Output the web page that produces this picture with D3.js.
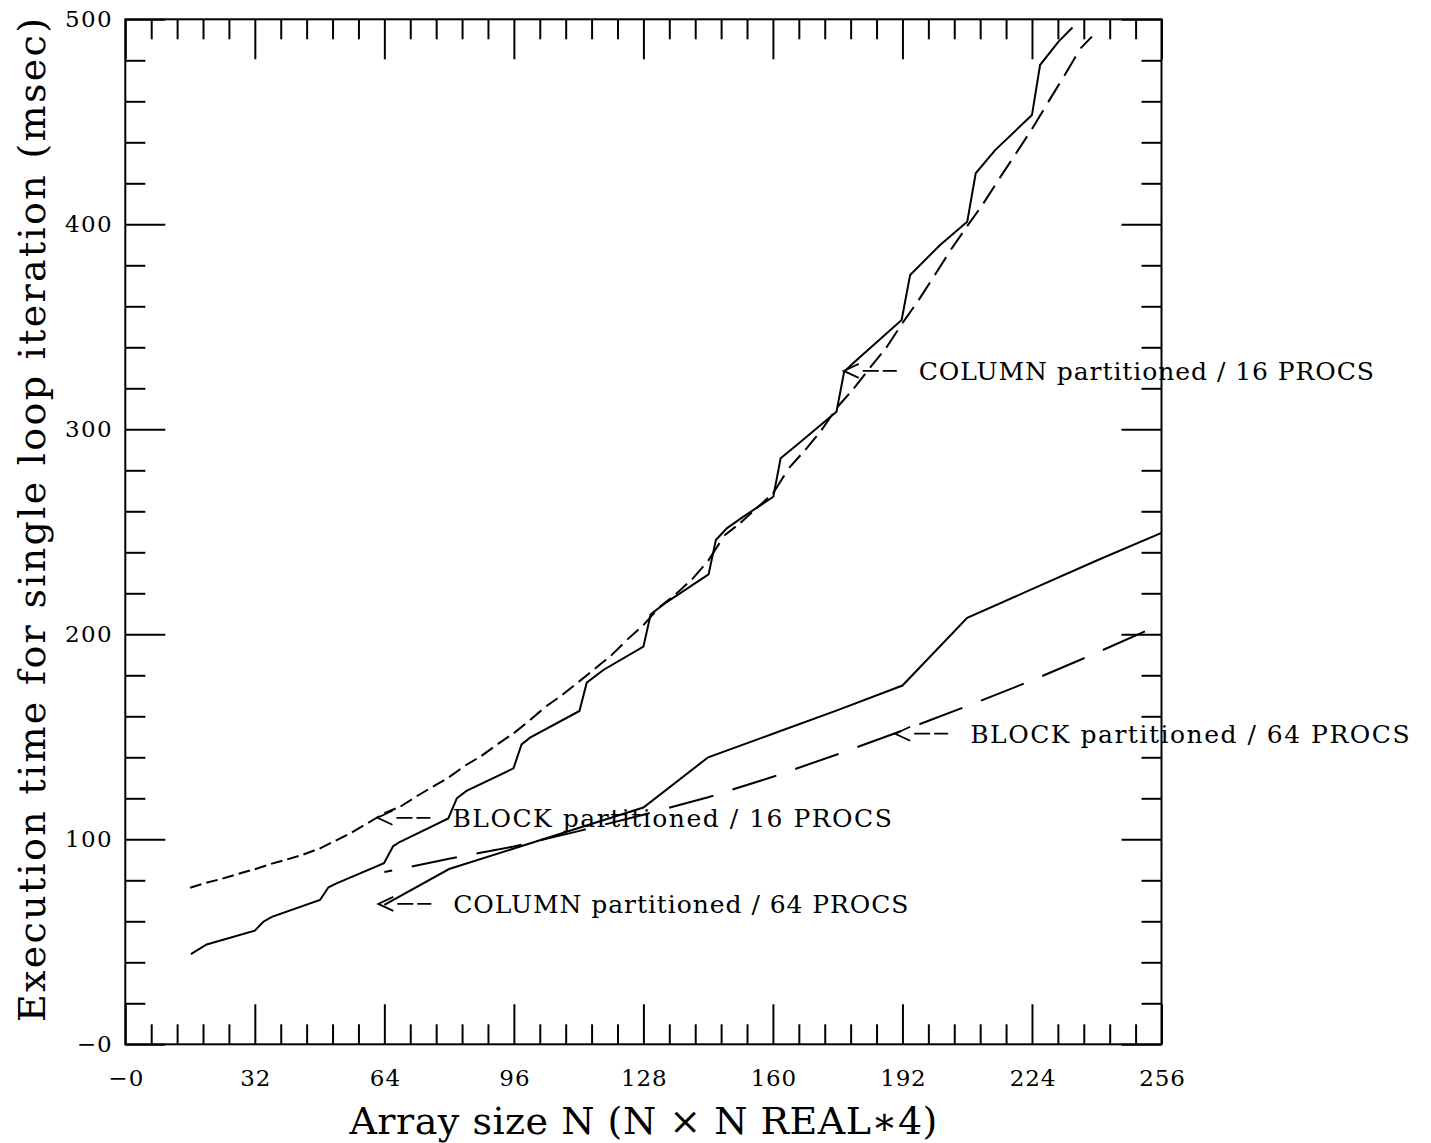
<!DOCTYPE html>
<html>
<head>
<meta charset="utf-8">
<script src="https://cdn.jsdelivr.net/npm/d3@7"></script>
<style>
  body { margin: 0; background: #fff; }
  svg text { font-family: "DejaVu Serif", serif; fill: #000; }
</style>
</head>
<body>
<div id="chart"></div>
<script>
// axis ticks
const xMajor = [0, 32, 64, 96, 128, 160, 192, 224, 256];
const yMajor = [0, 100, 200, 300, 400, 500];

// COLUMN partitioned / 16 PROCS (solid)
const col16N = [16.2, 20.1, 32, 34.1, 36.2, 48.1, 50.2, 52.2, 63.9, 66.2, 67.9, 79.8, 81.9, 84.3,
  95.9, 97.9, 100, 112.2, 114, 118.1, 128, 129.8, 133.3, 144.1, 145.9, 148.6, 152.7, 160.1,
  161.9, 165.9, 175.7, 177.6, 179.8, 191.8, 193.9, 201.3, 208, 210.1, 214.9, 224, 226, 230.5, 234];
const col16T = [44.0, 48.7, 55.4, 59.8, 62.2, 70.4, 76.6, 78.5, 88.3, 96.7, 98.8, 110.2, 120.0, 123.6,
  134.6, 146.3, 149.6, 162.6, 176.4, 182.6, 194.0, 209.8, 215.1, 229.2, 246.0, 251.7, 257.4, 267.1,
  285.9, 292.3, 308.6, 328.1, 332.2, 353.3, 375.3, 389.9, 401.2, 424.9, 436.2, 453.3, 477.7, 489.0, 496.0];

// BLOCK partitioned / 16 PROCS (short dashes)
const block16N = [16, 20, 24, 28, 32, 36, 40, 44, 48, 52, 56, 60, 64, 68, 72, 76, 80, 84, 88, 92,
  96, 100, 104, 108, 112, 116, 120, 124, 128, 132, 136, 140, 144, 148, 152, 156, 160, 164, 168,
  172, 176, 180, 184, 188, 192, 196, 200, 204, 208, 212, 216, 220, 224, 228, 232, 236, 240];
const block16T = [76.4, 78.8, 80.8, 83.2, 85.4, 88.0, 90.2, 92.6, 95.5, 99.4, 103.4, 108.0, 112.8,
  116.0, 121.0, 125.7, 130.3, 136.0, 140.7, 146.4, 151.8, 158.2, 164.9, 170.5, 176.8, 183.2, 189.6,
  197.4, 204.5, 213.3, 219.6, 226.8, 235.8, 248.2, 254.4, 261.6, 268.7, 281.2, 290.0, 299.6, 311.0,
  320.0, 330.1, 339.8, 351.8, 363.0, 375.3, 387.7, 399.1, 410.2, 422.5, 434.4, 446.5, 459.6, 472.5,
  485.8, 494.0];

// COLUMN partitioned / 64 PROCS (solid)
const col64N = [64, 80, 96, 112, 128, 144, 160, 176, 192, 208, 224, 240, 256];
const col64T = [68, 85.5, 95.5, 105.5, 115.5, 140, 151.5, 163, 175, 208, 222, 236, 249.5];

// BLOCK partitioned / 64 PROCS (long dashes)
const block64N = [64, 80, 96, 112, 128, 144, 160, 176, 192, 208, 224, 240, 256];
const block64T = [84, 90.5, 96.5, 104, 112, 120.5, 130.5, 141.5, 153, 165, 177.5, 191, 205];

// annotations: label, point the arrow touches
const noteText = ["COLUMN partitioned / 16 PROCS", "BLOCK partitioned / 16 PROCS",
  "COLUMN partitioned / 64 PROCS", "BLOCK partitioned / 64 PROCS"];
const noteN = [177.5, 62.3, 62.5, 190.2];
const noteT = [328.5, 110.5, 68.5, 151.5];

const width = 1431, height = 1143;
const svg = d3.select("#chart").append("svg")
  .attr("width", width).attr("height", height);

const x = d3.scaleLinear().domain([0, 256]).range([125.3, 1161.5]);
const y = d3.scaleLinear().domain([0, 500]).range([1044.3, 19.3]);

const fmt = d => d === 0 ? "\u22120" : String(d);
const xMinor = d3.range(0, 256.01, 6.4).filter(v => Math.abs(v / 32 - Math.round(v / 32)) > 1e-6);
const yMinor = d3.range(0, 500.01, 20).filter(v => v % 100 !== 0);

function styleAxis(g) {
  g.select(".domain").remove();
  g.selectAll("line").attr("stroke", "#000").attr("stroke-width", 2);
}

// bottom
svg.append("g").attr("transform", `translate(0,${y(0)})`)
  .call(d3.axisBottom(x).tickValues(xMajor).tickSize(-40).tickPadding(25).tickFormat(fmt))
  .call(styleAxis)
  .selectAll("text").attr("font-size", 23).attr("font-family", "DejaVu Serif")
  .attr("textLength", d => d === 0 ? 35 : fmt(d).length * 15.2);
svg.append("g").attr("transform", `translate(0,${y(0)})`)
  .call(d3.axisBottom(x).tickValues(xMinor).tickSize(-20).tickFormat(""))
  .call(styleAxis);
// top
svg.append("g").attr("transform", `translate(0,${y(500)})`)
  .call(d3.axisTop(x).tickValues(xMajor).tickSize(-40).tickFormat(""))
  .call(styleAxis);
svg.append("g").attr("transform", `translate(0,${y(500)})`)
  .call(d3.axisTop(x).tickValues(xMinor).tickSize(-20).tickFormat(""))
  .call(styleAxis);
// left
svg.append("g").attr("transform", `translate(${x(0)},0)`)
  .call(d3.axisLeft(y).tickValues(yMajor).tickSize(-40).tickPadding(13.6).tickFormat(fmt))
  .call(styleAxis)
  .selectAll("text").attr("font-size", 23).attr("font-family", "DejaVu Serif")
  .attr("textLength", d => d === 0 ? 35 : fmt(d).length * 15.6);
svg.append("g").attr("transform", `translate(${x(0)},0)`)
  .call(d3.axisLeft(y).tickValues(yMinor).tickSize(-20).tickFormat(""))
  .call(styleAxis);
// right
svg.append("g").attr("transform", `translate(${x(256)},0)`)
  .call(d3.axisRight(y).tickValues(yMajor).tickSize(-40).tickFormat(""))
  .call(styleAxis);
svg.append("g").attr("transform", `translate(${x(256)},0)`)
  .call(d3.axisRight(y).tickValues(yMinor).tickSize(-20).tickFormat(""))
  .call(styleAxis);

// frame
svg.append("rect")
  .attr("x", x(0)).attr("y", y(500))
  .attr("width", x(256) - x(0)).attr("height", y(0) - y(500))
  .attr("fill", "none").attr("stroke", "#000").attr("stroke-width", 2);

const line = d3.line().x(d => x(d[0])).y(d => y(d[1]));
const zip = (a, b) => a.map((v, i) => [v, b[i]]);

// solid curves
[zip(col16N, col16T), zip(col64N, col64T)].forEach(pts => {
  svg.append("path").datum(pts).attr("d", line)
    .attr("fill", "none").attr("stroke", "#000").attr("stroke-width", 2);
});

// short dashed curve: one dash per step
const b16 = zip(block16N, block16T);
for (let i = 0; i < b16.length - 1; i++) {
  const p = b16[i], q = b16[i + 1];
  const len = Math.hypot(x(q[0]) - x(p[0]), y(q[1]) - y(p[1]));
  svg.append("path").datum([p, q]).attr("d", line)
    .attr("fill", "none").attr("stroke", "#000").attr("stroke-width", 2)
    .attr("stroke-dasharray", `${len * 0.7} ${len}`);
}

// long dashed curve
svg.append("path").datum(zip(block64N, block64T)).attr("d", line)
  .attr("fill", "none").attr("stroke", "#000").attr("stroke-width", 2)
  .attr("stroke-dasharray", "46 20").attr("stroke-dashoffset", 38);

// annotations
noteText.forEach((t, i) => {
  const tx = x(noteN[i]), ty = y(noteT[i]);
  const g = svg.append("g").attr("transform", `translate(${tx},${ty})`);
  g.append("path").attr("d", "M15,-7L0,0L15,7")
    .attr("fill", "none").attr("stroke", "#000").attr("stroke-width", 1.8);
  g.append("path").attr("d", "M19,0H35M39,0H53")
    .attr("fill", "none").attr("stroke", "#000").attr("stroke-width", 1.8);
  g.append("text").attr("x", 75).attr("y", 9)
    .attr("font-size", 25)
    .attr("textLength", t.length * 15.8 - 3).attr("lengthAdjust", "spacing")
    .text(t);
});

// axis titles
svg.append("text")
  .attr("x", (x(0) + x(256)) / 2).attr("y", 1134)
  .attr("text-anchor", "middle").attr("font-size", 38)
  .attr("textLength", 588).attr("lengthAdjust", "spacing")
  .text("Array size N (N \u00d7 N REAL\u22174)");

svg.append("text")
  .attr("transform", "translate(45,520) rotate(-90)")
  .attr("text-anchor", "middle").attr("font-size", 38)
  .attr("textLength", 1004).attr("lengthAdjust", "spacing")
  .text("Execution time for single loop iteration (msec)");
</script>
</body>
</html>
